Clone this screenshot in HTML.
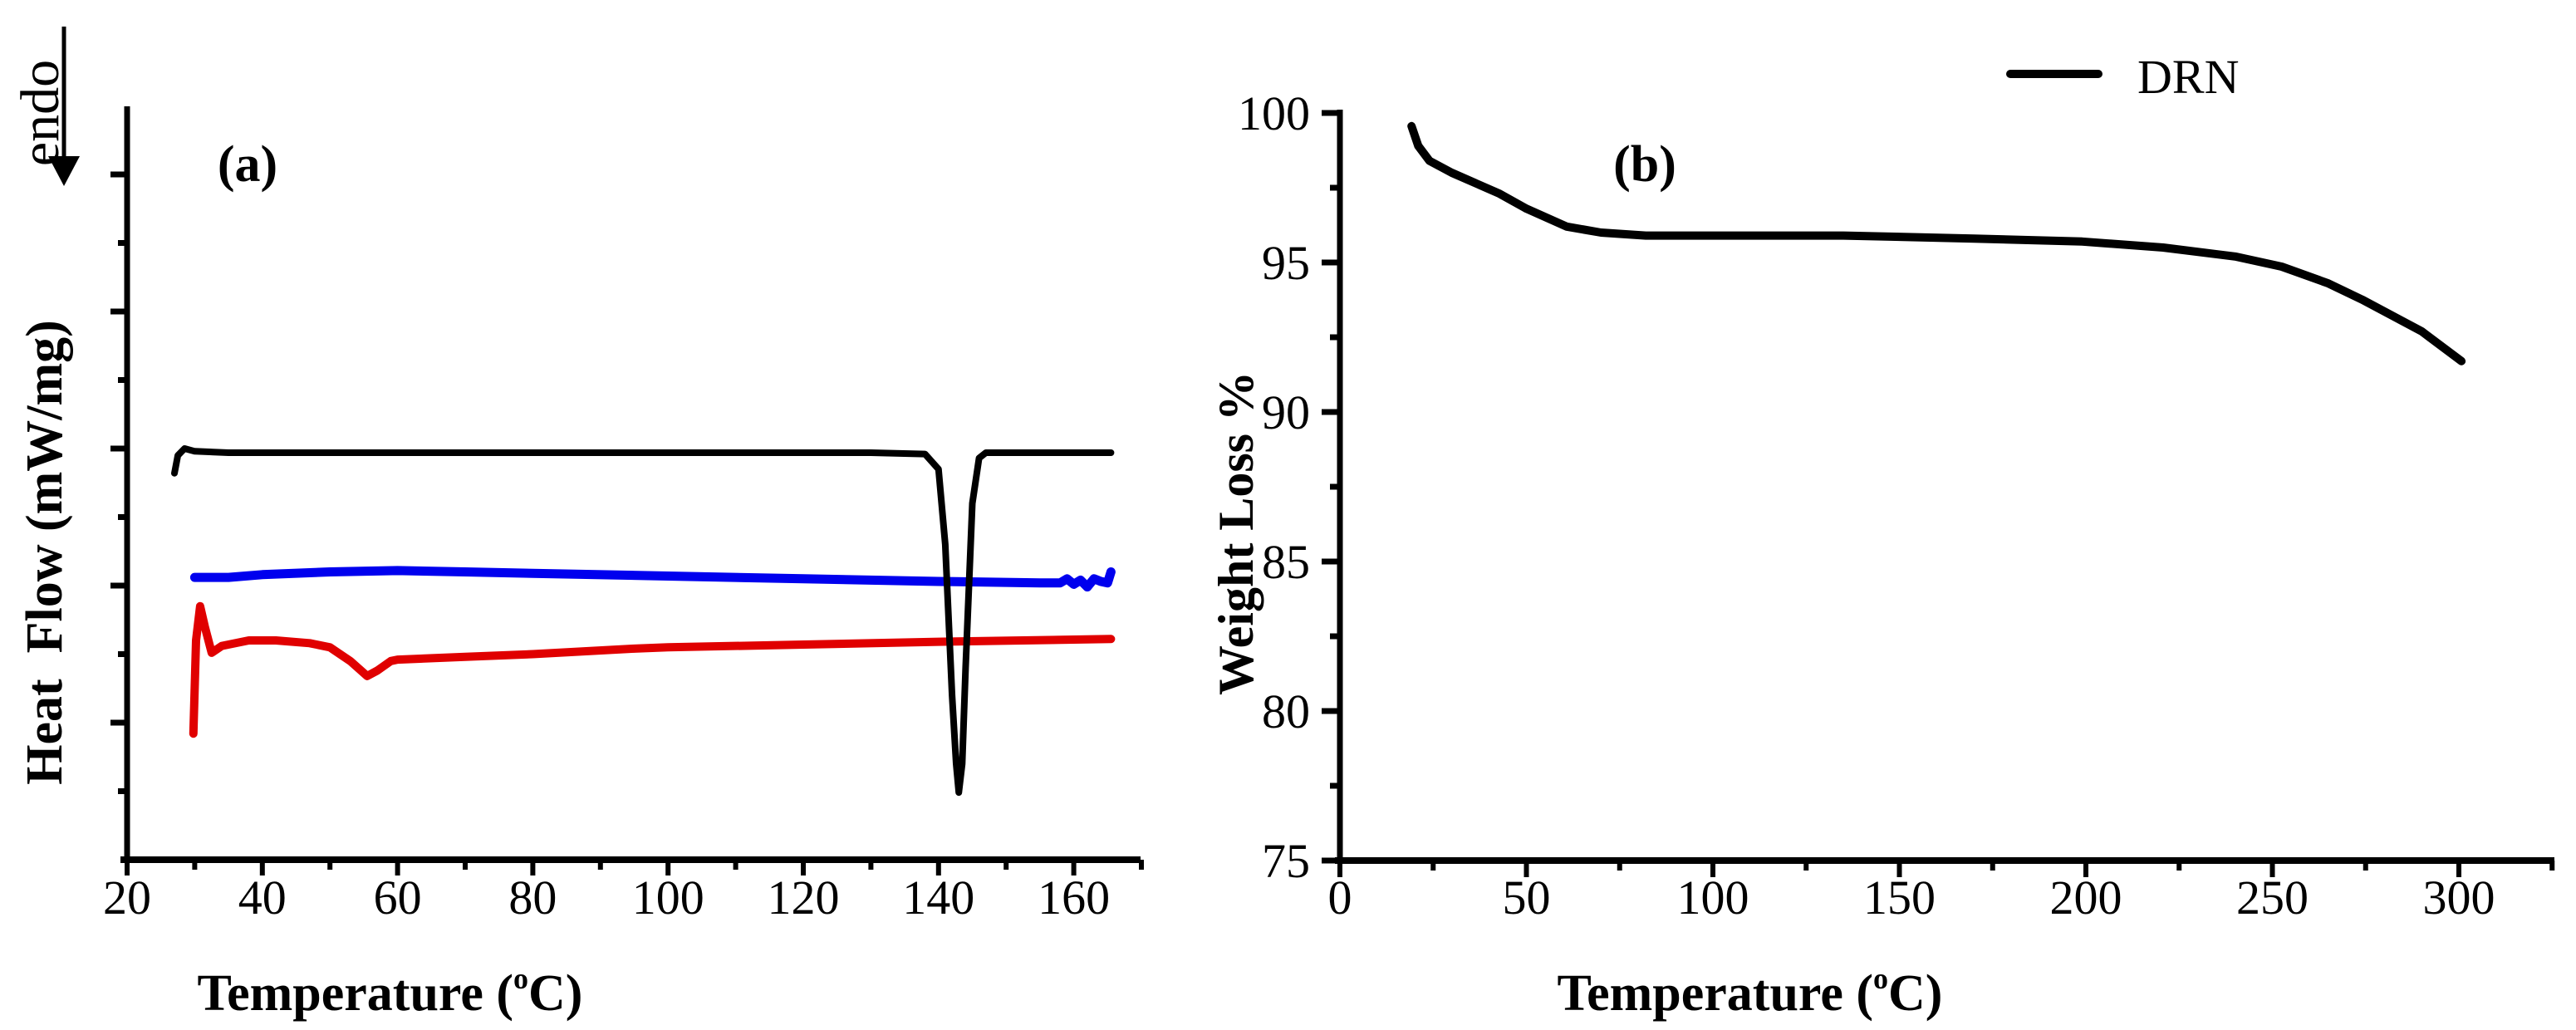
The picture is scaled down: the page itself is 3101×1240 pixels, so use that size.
<!DOCTYPE html>
<html><head><meta charset="utf-8"><style>
html,body{margin:0;padding:0;background:#fff;}
svg{display:block;font-family:"Liberation Serif",serif;}
</style></head><body>
<svg id="chart" width="3101" height="1240" viewBox="0 0 3101 1240" xmlns="http://www.w3.org/2000/svg">
<g id="left"></g>
<g id="right"></g>
</svg>
<script>
// ---- Panel (a) DSC data ----
const dscXTicks = [20,40,60,80,100,120,140,160];
const blackT = [27,27.5,28.5,30,35,60,100,130,138,140,141,142,142.6,143,143.5,144,145,146,147,150,165.5];
const blackV = [2.82,2.95,3.0,2.98,2.97,2.97,2.97,2.97,2.96,2.85,2.3,1.2,0.7,0.49,0.7,1.4,2.6,2.93,2.97,2.97,2.97];
const blueT = [30,35,40,50,60,70,80,100,120,140,155,158,159,160,161,162,163,164,165,165.5];
const blueV = [2.06,2.06,2.08,2.10,2.11,2.10,2.09,2.07,2.05,2.03,2.02,2.02,2.05,2.01,2.04,1.99,2.05,2.03,2.02,2.1];
const redT = [29.8,30.2,30.8,31.5,32.5,34,38,42,47,50,53,55.5,57,59,60,70,80,95,100,120,140,165.5];
const redV = [0.92,1.6,1.85,1.7,1.51,1.56,1.6,1.6,1.58,1.55,1.45,1.34,1.38,1.45,1.46,1.48,1.50,1.54,1.55,1.57,1.59,1.61];
// ---- Panel (b) TGA data ----
const tgaXTicks = [0,50,100,150,200,250,300];
const tgaYTicks = [75,80,85,90,95,100];
const tgaT = [19.2,21,24,30,42.8,50,60.8,70,82,100,135,170,199,220.7,240,252.5,265,274,290,300.7];
const tgaV = [99.56,98.9,98.4,98.0,97.3,96.8,96.2,96.0,95.9,95.9,95.9,95.8,95.7,95.5,95.2,94.86,94.3,93.76,92.7,91.7];

const NS="http://www.w3.org/2000/svg";
function mk(parent,tag,attrs){const e=document.createElementNS(NS,tag);for(const k in attrs)e.setAttribute(k,attrs[k]);parent.appendChild(e);return e;}
function txt(parent,x,y,s,size,weight,anchor){const t=mk(parent,'text',{x:x,y:y,'font-size':size,'font-weight':weight,'text-anchor':anchor});t.textContent=s;return t;}

// Panel a scales
const L=document.getElementById('left');
const ax0=153, ay0=1035;
const xA=t=>ax0+(t-20)*8.14;
const yA=v=>ay0-v*165;
mk(L,'line',{x1:ax0,y1:128,x2:ax0,y2:ay0+4,stroke:'#000','stroke-width':7});
mk(L,'line',{x1:ax0-8,y1:ay0,x2:1373,y2:ay0,stroke:'#000','stroke-width':8});
for(let i=1;i<=5;i++){
  const tk=mk(L,'line',{x1:ax0-20,y1:yA(i),x2:ax0,y2:yA(i),stroke:'#000','stroke-width':7});
  
  
  const mn=mk(L,'line',{x1:ax0-11,y1:yA(i-0.5),x2:ax0,y2:yA(i-0.5),stroke:'#000','stroke-width':7});
  
  
}
for(let t=20;t<=170;t+=10){
  const maj=(t%20===0);
  const tk=mk(L,'line',{x1:xA(t),y1:ay0,x2:xA(t),y2:ay0+(maj?19:12),stroke:'#000','stroke-width':6});
  
  
}
dscXTicks.forEach(t=>{const e=txt(L,xA(t),1100,String(t),58,'normal','middle');
  
  });
function series(parent,T,V,fx,fy,color,w,name){
  const d=T.map((t,i)=>(i?'L':'M')+fx(t).toFixed(1)+','+fy(V[i]).toFixed(1)).join(' ');
  const p=mk(parent,'path',{d:d,fill:'none',stroke:color,'stroke-width':w,'stroke-linejoin':'round','stroke-linecap':'round'});
  
  
}
series(L,redT,redV,xA,yA,'#e00000',10,'series-red');
series(L,blueT,blueV,xA,yA,'#0000ee',11,'series-blue');
series(L,blackT,blackV,xA,yA,'#000',8,'series-black');
let e;
e=txt(L,298,218,'(a)',62,'bold','middle');


e=txt(L,618,1216,'Temperature (',62,'bold','end');


e=txt(L,618,1216,'',62,'bold','start');
e.innerHTML='<tspan font-size="36" dy="-26">o</tspan><tspan dy="26">C)</tspan>';


e=txt(L,0,0,'Heat  Flow (mW/mg)',62,'bold','middle');
e.setAttribute('transform','translate(74,665) rotate(-90)');
e.setAttribute('style','white-space:pre');


// endo arrow
e=mk(L,'line',{x1:77,y1:32,x2:77,y2:200,stroke:'#000','stroke-width':5});


e=mk(L,'polygon',{points:'58,188 96,188 77,224',fill:'#000'});


e=txt(L,0,0,'endo',66,'normal','middle');
e.setAttribute('transform','translate(70,136) rotate(-90)');



// Panel b
const R=document.getElementById('right');
const bx0=1613, by0=1036;
const xB=t=>bx0+t*4.49;
const yB=v=>by0-(v-75)*36;
mk(R,'line',{x1:bx0,y1:132,x2:bx0,y2:by0+4,stroke:'#000','stroke-width':7});
mk(R,'line',{x1:bx0-6,y1:by0,x2:3075,y2:by0,stroke:'#000','stroke-width':8});
for(let v=75;v<=100;v+=2.5){
  const maj=(v%5===0);
  const tk=mk(R,'line',{x1:bx0-(maj?22:12),y1:yB(v),x2:bx0,y2:yB(v),stroke:'#000','stroke-width':7});
  
  
}
tgaYTicks.forEach(v=>{const t=txt(R,1577,yB(v)+20,String(v),58,'normal','end');
  
  });
for(let t=0;t<=325;t+=25){
  const maj=(t%50===0);
  const tk=mk(R,'line',{x1:xB(t),y1:by0,x2:xB(t),y2:by0+(maj?20:12),stroke:'#000','stroke-width':6});
  
  
}
tgaXTicks.forEach(t=>{const e2=txt(R,xB(t),1100,String(t),58,'normal','middle');
  
  });
series(R,tgaT,tgaV,xB,yB,'#000',10,'series-drn');
e=txt(R,1980,218,'(b)',62,'bold','middle');


e=txt(R,2255,1216,'Temperature (',62,'bold','end');


e=txt(R,2255,1216,'',62,'bold','start');
e.innerHTML='<tspan font-size="36" dy="-26">o</tspan><tspan dy="26">C)</tspan>';


e=txt(R,0,0,'Weight Loss %',60,'bold','middle');
e.setAttribute('transform','translate(1508,642) rotate(-90)');


e=mk(R,'line',{x1:2420,y1:89,x2:2526,y2:89,stroke:'#000','stroke-width':10,'stroke-linecap':'round'});


e=txt(R,2573,112,'DRN',58,'normal','start');


</script>
</body></html>
